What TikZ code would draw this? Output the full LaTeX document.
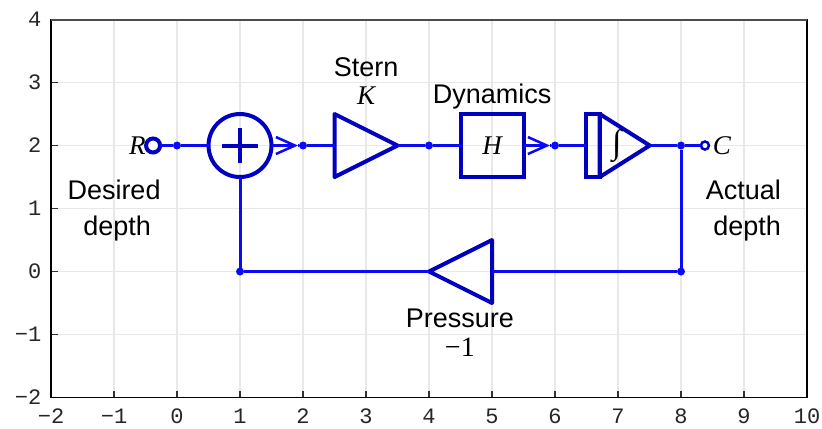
\documentclass[tikz,border=0pt]{standalone}
\usepackage{fontspec}
\setmainfont{Liberation Sans}
\newfontfamily\serifit[ItalicFont=Liberation Serif Italic]{Liberation Serif}
\setmonofont{Liberation Mono}
\usetikzlibrary{shapes.geometric, arrows.meta}
\definecolor{blockblue}{RGB}{0,0,190}
\definecolor{wireblue}{RGB}{10,10,245}
\tikzstyle{gridline} = [draw=black!9, line width=1.5pt]
\tikzstyle{frame} = [draw=black, line width=1.5pt]
\tikzstyle{tick} = [draw=black!80, line width=1.2pt]
\tikzstyle{ticklabel} = [font=\fontsize{22}{22}\ttfamily, text=black!85, inner sep=0pt]
\tikzstyle{wire} = [draw=wireblue, line width=3pt]
\tikzstyle{arrow} = [wire, -{Straight Barb[length=19pt, width=17pt, line width=2.5pt]}]
\tikzstyle{block} = [draw=blockblue, line width=4pt, inner sep=0pt, outer sep=0pt]
\tikzstyle{amp} = [block, isosceles triangle, isosceles triangle stretches, line join=round,
                   minimum height=63pt, minimum width=63pt, anchor=lower side]
\tikzstyle{dot} = [circle, fill=wireblue, inner sep=0pt, outer sep=0pt, minimum size=8pt]
\tikzstyle{label} = [font=\fontsize{27}{27}\selectfont, text=black, inner sep=0pt]
\tikzstyle{symbol} = [font=\fontsize{27}{27}\serifit\itshape, text=black, inner sep=0pt]

\begin{document}
\begin{tikzpicture}[x=63pt, y=63pt]
        \useasboundingbox (-2.81,-2.484) rectangle (10.238,4.31);

        % axes
        \draw [gridline, step=1] (-2,-2) grid (10,4);
        \foreach \x in {-2,...,10} {
            \draw [tick] (\x,-2) -- ++(0,7pt);
            \ifnum\x<0
                \node [ticklabel] at (\x,-2.3) {−\the\numexpr-\x\relax};
            \else
                \node [ticklabel] at (\x,-2.3) {\x};
            \fi
        }
        \foreach \y in {-2,...,4} {
            \draw [tick] (-2,\y) -- ++(7pt,0);
            \ifnum\y<0
                \node [ticklabel, anchor=east] at (-2.15,\y) {−\the\numexpr-\y\relax};
            \else
                \node [ticklabel, anchor=east] at (-2.15,\y) {\y};
            \fi
        }
        \draw [frame] (-2,-2) rectangle (10,4);
        \draw [draw=black!70, line width=2pt] (-2,4) -- (10,4);

        % blocks
        \node (input) [circle, block, fill=white, minimum size=14pt] at (-0.38,2) {};
        \node (d0) [dot] at (0,2) {};
        \node (sum) [circle, block, minimum size=63pt] at (1,2) {};
        \node (d2) [dot] at (2,2) {};
        \node (stern) [amp] at (2.5,2) {};
        \node (d4) [dot] at (4,2) {};
        \node (dyn) [rectangle, block, minimum size=63pt] at (5,2) {\fontsize{27}{27}\serifit\itshape H};
        \node (d6) [dot] at (6,2) {};
        \node (gate) [rectangle, block, minimum width=14pt, minimum height=63pt] at (6.6,2) {};
        \node (integ) [amp, minimum height=50pt] at (6.71,2) {};
        \node (d8) [dot] at (8,2) {};
        \node (output) [circle, block, line width=2.5pt, minimum size=8pt] at (8.38,2) {};
        \node (d80) [dot] at (8,0) {};
        \node (press) [amp, shape border rotate=180] at (5,0) {};
        \node (d10) [dot] at (1,0) {};
        \coordinate (tip1) at (1.92,2);
        \coordinate (tip2) at (5.92,2);

        % plus and integral
        \draw [block] (0.72,2) -- (1.28,2);
        \draw [block] (1,1.72) -- (1,2.28);
        \node (intsign) [font=\fontsize{34}{34}\serifit, inner sep=0pt] at (6.98,2) {\char"222B};

        % wires
        \draw [wire] (input) -- (d0);
        \draw [wire] (d0) -- (sum);
        \draw [arrow] (sum.east) -- (tip1);
        \draw [wire] (tip1) -- (d2);
        \draw [wire] (d2) -- (stern.lower side);
        \draw [wire] (stern.apex) -- (d4);
        \draw [wire] (d4) -- (dyn);
        \draw [arrow] (dyn.east) -- (tip2);
        \draw [wire] (tip2) -- (d6);
        \draw [wire] (d6) -- (gate);
        \draw [wire] (integ.apex) -- (d8);
        \draw [wire] (d8) -- (output);
        \draw [wire] (d8) -- (d80);
        \draw [wire] (d80) -- (press.lower side);
        \draw [wire] (press.apex) -- (d10);
        \draw [wire] (d10) -- (sum);

        % labels
        \node (rlabel) [symbol] at (-0.63,2) {R};
        \node (clabel) [symbol] at (8.65,2) {C};
        \node (desired) [label] at (-1,1.29) {Desired};
        \node (ddepth) [label] at (-0.95,0.68) {depth};
        \node (actual) [label] at (8.99,1.29) {Actual};
        \node (adepth) [label] at (9.05,0.68) {depth};
        \node (sternl) [label] at (3,3.24) {Stern};
        \node (kl) [symbol] at (3,2.79) {K};
        \node (dynl) [label] at (5,2.77) {Dynamics};
        \node (pressl) [label] at (4.49,-0.74) {Pressure};
        \node (gain) [font=\fontsize{28}{28}\serifit, inner sep=0pt] at (4.49,-1.2) {−1};
\end{tikzpicture}
\end{document}
